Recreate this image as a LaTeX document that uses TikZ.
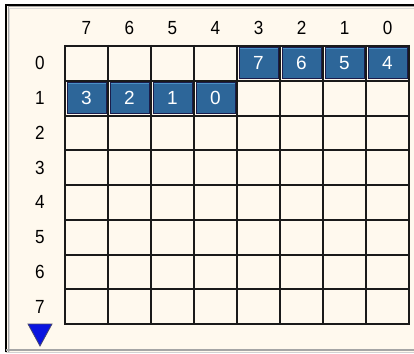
\documentclass[tikz,border=0pt]{standalone}
\usepackage{fontspec}
\setmainfont{Liberation Sans}
\definecolor{cream}{HTML}{FFF9EE}
\definecolor{cellblue}{HTML}{2D6699}
\definecolor{cellhi}{HTML}{4A90C6}
\definecolor{navy}{HTML}{1A1C4A}
\definecolor{gridc}{HTML}{1A1A1A}
\definecolor{arrowblue}{HTML}{0A14E0}
\begin{document}
\begin{tikzpicture}[x=1pt,y=-1pt,
  lbl/.style={font=\fontsize{19}{19}\selectfont, text=black, inner sep=0pt, xscale=0.9},
  bitcell/.style={rectangle, fill=cellblue, draw=navy, line width=1pt, minimum width=39pt, minimum height=31pt, inner sep=0pt, text=white, font=\fontsize{19}{19}\selectfont},
  gridline/.style={draw=gridc, line width=2pt}]
\useasboundingbox (0,0) rectangle (414,353);
\fill[cream] (0,0) rectangle (414,353);
% sunken frame
\fill[white] (0,0) rectangle (414,4);
\fill[white] (0,0) rectangle (5,353);
\draw[black, line width=2pt] (6,352) -- (6,5) -- (414,5);
\draw[gray!70, line width=1pt] (8,352) -- (8,7) -- (414,7);
\draw[gray!30, line width=1pt] (9.5,352) -- (9.5,8.5) -- (414,8.5);
\draw[gray!70, line width=2pt] (6,350) -- (414,350);
\draw[gray!35, line width=1.5pt] (6,352.3) -- (414,352.3);
% column labels
\foreach \i/\t in {0/7,1/6,2/5,3/4,4/3,5/2,6/1,7/0}
  \node[lbl] (c\i) at ({65+43*\i+21.5},28) {\t};
% row labels
\foreach \j in {0,...,7}
  \node[lbl] (r\j) at (40,{46+34.75*\j+17.4}) {\j};
% bit cells
\foreach \i/\t in {4/7,5/6,6/5,7/4}
  \node[bitcell] (a\i) at ({65+43*\i+21.5},{46+17.4}) {\t};
\foreach \i/\t in {0/3,1/2,2/1,3/0}
  \node[bitcell] (b\i) at ({65+43*\i+21.5},{46+34.75+17.4}) {\t};
\foreach \i in {4,5,6,7}
  \draw[cellhi, line width=1pt] ([xshift=1pt,yshift=-1.5pt]a\i.north west) -- ([xshift=-1pt,yshift=-1.5pt]a\i.north east);
\foreach \i in {0,1,2,3}
  \draw[cellhi, line width=1pt] ([xshift=1pt,yshift=-1.5pt]b\i.north west) -- ([xshift=-1pt,yshift=-1.5pt]b\i.north east);
% grid
\foreach \i in {0,...,8}
  \draw[gridline] ({65+43*\i},45) -- ({65+43*\i},325);
\foreach \j in {0,...,8}
  \draw[gridline] (64,{46+34.75*\j}) -- (410,{46+34.75*\j});
% down arrow
\fill[arrowblue, draw=navy!80, line width=0.8pt] (28,324) -- (52,324) -- (40,346) -- cycle;
\end{tikzpicture}
\end{document}
